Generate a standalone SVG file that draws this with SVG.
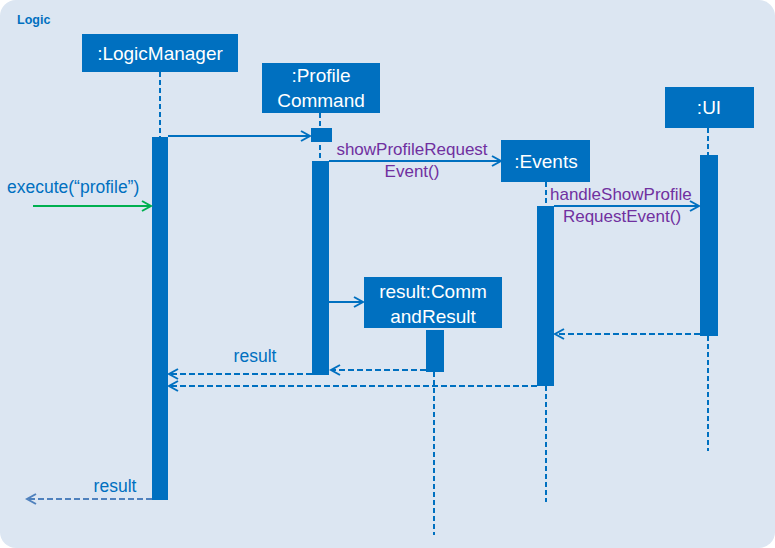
<svg xmlns="http://www.w3.org/2000/svg" width="775" height="548" viewBox="0 0 775 548">
<defs>
<style>
.box{fill:#0070C0}
.bt{fill:#fff;font-family:"Liberation Sans",Arial,sans-serif;font-size:19px;text-anchor:middle}
.life{stroke:#0070C0;stroke-width:2;stroke-dasharray:5,3;fill:none}
.act{fill:#0070C0}
.msg{stroke:#0070C0;stroke-width:2;fill:none}
.ret{stroke:#0070C0;stroke-width:2;stroke-dasharray:6,3;fill:none}
.pl{fill:#7030A0;font-family:"Liberation Sans",Arial,sans-serif;font-size:17px}
.bl{fill:#0070C0;font-family:"Liberation Sans",Arial,sans-serif;font-size:17.5px}
</style>
<marker id="arr" markerWidth="12" markerHeight="12" refX="10" refY="6" orient="auto" markerUnits="userSpaceOnUse">
<path d="M1,1 L10,6 L1,11" fill="none" stroke="#0070C0" stroke-width="2"/>
</marker>
<marker id="arrg" markerWidth="12" markerHeight="12" refX="10" refY="6" orient="auto" markerUnits="userSpaceOnUse">
<path d="M1,1 L10,6 L1,11" fill="none" stroke="#00B050" stroke-width="2"/>
</marker>
<marker id="arrl" markerWidth="12" markerHeight="12" refX="10" refY="6" orient="auto" markerUnits="userSpaceOnUse">
<path d="M1,1 L10,6 L1,11" fill="none" stroke="#4F81BD" stroke-width="2"/>
</marker>
</defs>
<rect x="0" y="0" width="775" height="548" rx="16" ry="16" fill="#DCE6F2"/>
<text x="17" y="24" font-family="Liberation Sans,Arial,sans-serif" font-size="12.5" font-weight="bold" fill="#0070C0">Logic</text>

<g id="logicmanager">
<rect class="box" x="82" y="34" width="156" height="38"/>
<text class="bt" x="160" y="60">:LogicManager</text>
<line class="life" x1="160" y1="72" x2="160" y2="137"/>
<rect class="act" x="152" y="137" width="16" height="363"/>
</g>

<g id="profilecommand">
<rect class="box" x="262" y="63" width="118" height="50"/>
<text class="bt" x="321" y="82">:Profile</text>
<text class="bt" x="321" y="107">Command</text>
<line class="life" x1="320" y1="113" x2="320" y2="161"/>
<rect class="act" x="311" y="128" width="21" height="14"/>
<rect class="act" x="312" y="161" width="17" height="214"/>
</g>

<g id="events">
<rect class="box" x="501" y="140" width="89" height="42"/>
<text class="bt" x="546" y="168">:Events</text>
<line class="life" x1="546" y1="182" x2="546" y2="206"/>
<rect class="act" x="537" y="206" width="17" height="180"/>
<line class="life" x1="546" y1="386" x2="546" y2="502"/>
</g>

<g id="ui">
<rect class="box" x="665" y="87" width="89" height="41"/>
<text class="bt" x="709" y="114">:UI</text>
<line class="life" x1="708" y1="128" x2="708" y2="155"/>
<rect class="act" x="700" y="155" width="18" height="181"/>
<line class="life" x1="708" y1="336" x2="708" y2="451"/>
</g>

<g id="commandresult">
<rect class="box" x="364" y="277" width="138" height="51"/>
<text class="bt" x="433" y="298">result:Comm</text>
<text class="bt" x="433" y="323">andResult</text>
<rect class="act" x="426" y="330" width="18" height="42"/>
<line class="life" x1="434" y1="372" x2="434" y2="535"/>
</g>

<g id="connectors">
<line x1="33" y1="206" x2="151" y2="206" stroke="#00B050" stroke-width="2" marker-end="url(#arrg)"/>
<text class="bl" x="7" y="193">execute(“profile”)</text>
<line class="msg" x1="168" y1="136" x2="310" y2="136" marker-end="url(#arr)"/>
<line class="msg" x1="329" y1="161" x2="501" y2="161" marker-end="url(#arr)"/>
<text class="pl" x="412" y="155" text-anchor="middle">showProfileRequest</text>
<text class="pl" x="412" y="177" text-anchor="middle">Event()</text>
<line class="msg" x1="554" y1="206" x2="699" y2="206" marker-end="url(#arr)"/>
<text class="pl" x="550" y="200">handleShowProfile</text>
<text class="pl" x="622" y="222" text-anchor="middle">RequestEvent()</text>
<line class="msg" x1="329" y1="302" x2="363" y2="302" marker-end="url(#arr)"/>
<line class="ret" x1="700" y1="334" x2="555" y2="334" marker-end="url(#arr)"/>
<line class="ret" x1="426" y1="370" x2="331" y2="370" marker-end="url(#arr)"/>
<line class="ret" x1="312" y1="374" x2="169" y2="374" marker-end="url(#arr)"/>
<text class="bl" x="255" y="362" text-anchor="middle">result</text>
<line class="ret" x1="537" y1="386" x2="169" y2="386" marker-end="url(#arr)"/>
<line x1="152" y1="499" x2="27" y2="499" stroke="#4F81BD" stroke-width="2" stroke-dasharray="6,3" marker-end="url(#arrl)"/>
<text class="bl" x="115" y="492" text-anchor="middle">result</text>
</g>
</svg>
